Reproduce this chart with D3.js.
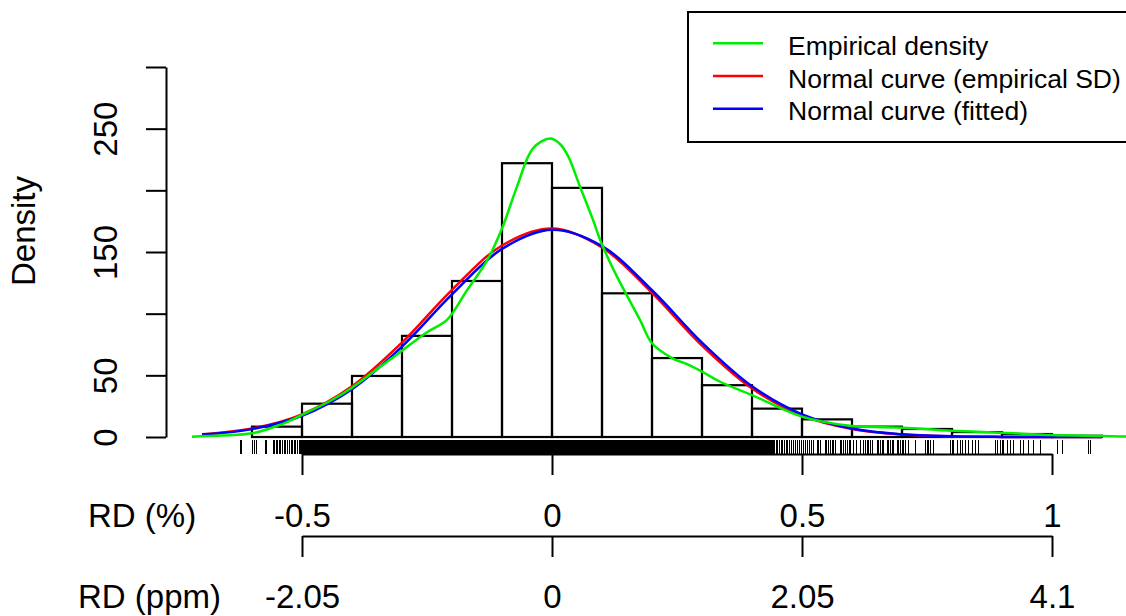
<!DOCTYPE html>
<html>
<head>
<meta charset="utf-8">
<title>RD density</title>
<script src="https://d3js.org/d3.v7.min.js"></script>
<style>
  body { margin: 0; background: #fff; }
  svg { display: block; font-family: "Liberation Sans", Arial, sans-serif; }
</style>
</head>
<body>
<svg id="chart" width="1126" height="616"></svg>
<script>
// histogram (x in %, bin width 0.1)
const binEdges = [-0.6, -0.5, -0.4, -0.3, -0.2, -0.1, 0, 0.1, 0.2, 0.3, 0.4, 0.5, 0.6, 0.7, 0.8, 0.9, 1.0, 1.1];
const binDensity = [8.4, 27, 49.5, 82, 126.5, 222, 202, 116.5, 64, 42, 23, 14.3, 8.4, 6.5, 4, 2.4, 1];

// curves: [x %, density]
const empirical = [[-0.72, 0.3], [-0.66, 1.2], [-0.6, 3], [-0.545, 9.7], [-0.5, 18], [-0.44, 30], [-0.4, 40],
  [-0.35, 55], [-0.3, 70], [-0.25, 85], [-0.21, 95], [-0.17, 119], [-0.13, 143], [-0.1, 169], [-0.07, 203],
  [-0.038, 234], [-0.004, 242], [0.015, 238], [0.032, 228], [0.056, 203], [0.082, 176], [0.1, 156], [0.13, 130],
  [0.176, 95], [0.2, 76], [0.24, 64], [0.27, 59], [0.3, 53], [0.335, 45], [0.4, 34], [0.5, 16.5], [0.6, 8.9],
  [0.7, 7.6], [0.8, 5.1], [0.9, 3.5], [1.0, 1.6], [1.1, 0.8], [1.15, 0.3], [1.2, 0.1]];
const normalSD = [[-0.7, 2.2], [-0.6, 6.9], [-0.5, 18.4], [-0.4, 41.1], [-0.3, 76.6], [-0.2, 119.3], [-0.1, 155.3],
  [0, 169], [0.1, 153.7], [0.2, 116.8], [0.3, 74.1], [0.4, 39.3], [0.5, 17.4], [0.6, 6.5], [0.7, 2.0],
  [0.8, 0.5], [0.9, 0.1], [1.0, 0.02], [1.1, 0]];
const normalFit = [[-0.7, 2.0], [-0.6, 6.4], [-0.5, 17.2], [-0.4, 38.8], [-0.3, 73.3], [-0.2, 115.6], [-0.1, 152.5],
  [0, 168], [0.1, 154.7], [0.2, 119.0], [0.3, 76.5], [0.4, 41.1], [0.5, 18.4], [0.6, 6.9], [0.7, 2.2],
  [0.8, 0.6], [0.9, 0.1], [1.0, 0.02], [1.1, 0]];

// rug: single ticks in the tails, solid where ticks merge
const rugTicks = [-0.623, -0.6206, -0.6, -0.596, -0.592, -0.574, -0.5706, -0.558, -0.555, -0.552, -0.549, -0.546,
  -0.543, -0.54, -0.536, -0.533, -0.53, -0.526, -0.522, -0.519, -0.516, -0.514, -0.51, -0.506, -0.503,
  0.442, 0.445, 0.448, 0.451, 0.454, 0.458, 0.461, 0.464, 0.468, 0.471, 0.474, 0.478, 0.482, 0.486, 0.49,
  0.494, 0.498, 0.502, 0.506, 0.51, 0.514, 0.518, 0.522, 0.53, 0.533, 0.536, 0.546, 0.549, 0.552, 0.556,
  0.56, 0.563, 0.566, 0.576, 0.579, 0.582, 0.586, 0.59, 0.594, 0.597, 0.602, 0.608, 0.616, 0.622, 0.626,
  0.63, 0.633, 0.636, 0.64, 0.65, 0.653, 0.656, 0.66, 0.663, 0.67, 0.673, 0.676, 0.68, 0.683, 0.69, 0.693,
  0.696, 0.7, 0.703, 0.706, 0.712, 0.726, 0.746, 0.75, 0.753, 0.756, 0.762, 0.796, 0.8, 0.803, 0.81, 0.816,
  0.82, 0.826, 0.832, 0.84, 0.846, 0.852, 0.886, 0.89, 0.896, 0.9, 0.903, 0.91, 0.916, 0.922, 0.936, 0.942,
  0.952, 0.962, 0.976, 1.01, 1.02, 1.072, 1.076];
const rugSolid = [-0.503, 0.442];

const yTicks = [0, 50, 100, 150, 200, 250, 300];
const yLabels = ["0", "50", "", "150", "", "250", ""];
const pctTicks = [-0.5, 0, 0.5, 1];
const pctLabels = ["-0.5", "0", "0.5", "1"];
const ppmLabels = ["-2.05", "0", "2.05", "4.1"];

const legendNames = ["Empirical density", "Normal curve (empirical SD)", "Normal curve (fitted)"];
const legendColors = ["#00ee00", "#ff0000", "#0000ff"];

const svg = d3.select("#chart");
const x = d3.scaleLinear().domain([-0.5, 1]).range([302, 1052]);
const y = d3.scaleLinear().domain([0, 300]).range([437, 67]);

// bars
svg.append("g").selectAll("rect")
  .data(binDensity)
  .join("rect")
  .attr("x", (d, i) => x(binEdges[i]))
  .attr("width", (d, i) => x(binEdges[i + 1]) - x(binEdges[i]))
  .attr("y", d => y(d))
  .attr("height", d => y(0) - y(d))
  .attr("fill", "none")
  .attr("stroke", "#000")
  .attr("stroke-width", 2.2);

// curves
const line = d3.line()
  .x(d => x(d[0]))
  .y(d => y(d[1]))
  .curve(d3.curveCatmullRom.alpha(0.5));

[[normalSD, legendColors[1]], [normalFit, legendColors[2]], [empirical, legendColors[0]]].forEach(([data, col]) => {
  svg.append("path")
    .datum(data)
    .attr("d", line)
    .attr("fill", "none")
    .attr("stroke", col)
    .attr("stroke-width", 2.5);
});

// rug
svg.append("rect")
  .attr("x", x(rugSolid[0]))
  .attr("width", x(rugSolid[1]) - x(rugSolid[0]))
  .attr("y", 440)
  .attr("height", 14)
  .attr("fill", "#000");
svg.append("g").selectAll("line")
  .data(rugTicks)
  .join("line")
  .attr("x1", d => x(d)).attr("x2", d => x(d))
  .attr("y1", 440).attr("y2", 454)
  .attr("stroke", "#000")
  .attr("stroke-width", 1)
  .attr("shape-rendering", "crispEdges");

// y axis
const yAxis = svg.append("g")
  .attr("transform", "translate(166,0)")
  .call(d3.axisLeft(y).tickValues(yTicks).tickSize(20).tickSizeOuter(0).tickFormat((d, i) => yLabels[i]));
yAxis.selectAll("path, line").attr("stroke", "#000").attr("stroke-width", 2);
yAxis.selectAll("text")
  .attr("transform", "rotate(-90)")
  .attr("x", 0).attr("y", -49).attr("dy", 0)
  .attr("text-anchor", "middle")
  .attr("fill", "#000")
  .style("font-size", "33px");

svg.append("text")
  .attr("transform", "translate(35,231) rotate(-90)")
  .attr("text-anchor", "middle")
  .style("font-size", "33px")
  .text("Density");

// two bottom axes sharing the same positions
function bottomAxis(yPos, labels, labelBase) {
  const g = svg.append("g")
    .attr("transform", `translate(0,${yPos})`)
    .call(d3.axisBottom(x).tickValues(pctTicks).tickSize(21).tickSizeOuter(0).tickFormat((d, i) => labels[i]));
  g.selectAll("path, line").attr("stroke", "#000").attr("stroke-width", 2);
  g.selectAll("text")
    .attr("y", labelBase - yPos).attr("dy", 0)
    .attr("fill", "#000")
    .style("font-size", "33px");
}
bottomAxis(454, pctLabels, 527);
bottomAxis(536, ppmLabels, 608);

svg.append("text").attr("x", 88).attr("y", 527).style("font-size", "33px").text("RD (%)");
svg.append("text").attr("x", 78).attr("y", 608).style("font-size", "33px").text("RD (ppm)");

// legend
const legend = svg.append("g");
legend.append("rect")
  .attr("x", 688).attr("y", 12)
  .attr("width", 460).attr("height", 130)
  .attr("fill", "#fff")
  .attr("stroke", "#000")
  .attr("stroke-width", 2);
legendNames.forEach((name, i) => {
  const ly = 43.3 + i * 32.7;
  legend.append("line")
    .attr("x1", 713).attr("x2", 763)
    .attr("y1", ly).attr("y2", ly)
    .attr("stroke", legendColors[i])
    .attr("stroke-width", 2.5);
  legend.append("text")
    .attr("x", 788).attr("y", ly + 11.5)
    .style("font-size", "26.5px")
    .text(name);
});
</script>
</body>
</html>
